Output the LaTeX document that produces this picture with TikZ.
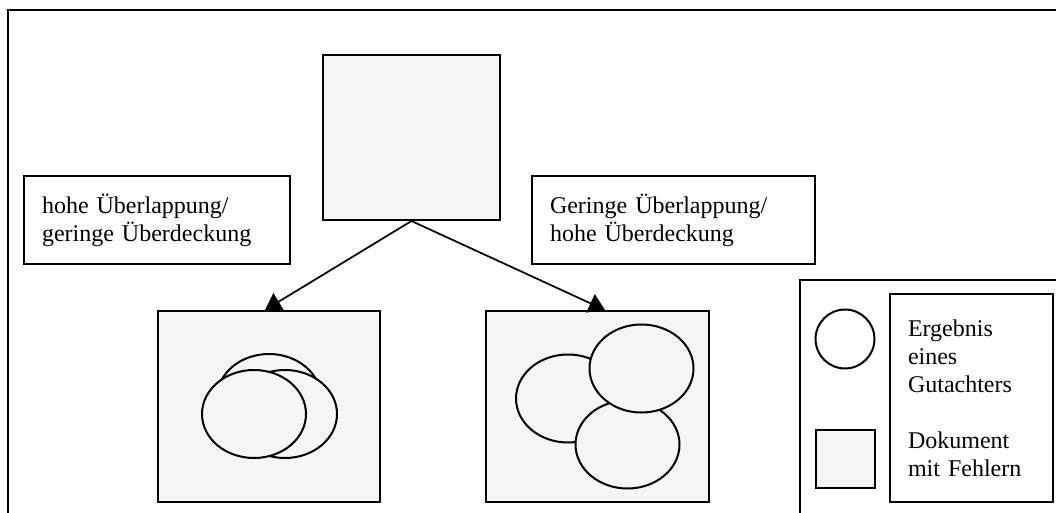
\documentclass[tikz,border=0pt]{standalone}
\usepackage{fontspec}
\setmainfont{Liberation Serif}
\usetikzlibrary{arrows.meta}

\definecolor{DocFill}{HTML}{F5F5F5}

\begin{document}
\begin{tikzpicture}[x=0.75pt, y=-0.75pt,
  every node/.style={font=\fontsize{18}{21}\selectfont},
  frame/.style={line width=1.5pt},
  docbox/.style={draw, line width=1.5pt, fill=DocFill, inner sep=0pt},
  labelbox/.style={draw, line width=1.5pt, fill=white, align=left, inner xsep=13.5pt, inner ysep=0pt},
  result/.style={draw, line width=1.5pt, fill=DocFill},
  link/.style={line width=1.3pt, -{Triangle[width=15pt, length=12pt]}}]

  \useasboundingbox (0,0) rectangle (1056,513);

  %%%%%%%%%% Rahmen %%%%%%%%%%
  \draw [frame] (8,520) -- (8,10.5) -- (1070,10.5);
  \draw [frame] (800,520) -- (800,280) -- (1070,280);

  %%%%%%%%%% Dokumente %%%%%%%%%%
  \node [docbox, minimum width=132.75pt, minimum height=123.75pt] (doc) at (411.5,137.5) {};
  \node [docbox, minimum width=166.5pt, minimum height=143.25pt] (docL) at (269,406.5) {};
  \node [docbox, minimum width=167.25pt, minimum height=143.25pt] (docR) at (597.5,406.5) {};

  %%%%%%%%%% Beschriftung %%%%%%%%%%
  \node [labelbox, text width=172.5pt, minimum height=66pt] (labL) at (157,220)
    {hohe Überlappung/\\geringe Überdeckung};
  \node [labelbox, text width=185.25pt, minimum height=66pt] (labR) at (673.5,220)
    {Geringe Überlappung/\\hohe Überdeckung};

  %%%%%%%%%% Ergebnisse der Gutachter %%%%%%%%%%
  \foreach \cx/\cy in {269/398, 285/414, 254/414, 568/398.5, 627.5/444.5, 641.5/368.5}
  {
    \draw [result] (\cx,\cy) ellipse [x radius=39pt, y radius=33pt];
  }

  %%%%%%%%%% Pfeile %%%%%%%%%%
  \coordinate (tipL) at (265,310);
  \coordinate (tipR) at (605,310);
  \draw [link] (doc.south) -- (tipL);
  \draw [link] (doc.south) -- (tipR);

  %%%%%%%%%% Legende %%%%%%%%%%
  \draw [frame, fill=white] (845,339) circle [radius=22.1pt];
  \node [docbox, minimum width=44.25pt, minimum height=43.5pt] (legDoc) at (845.5,459) {};
  \node [labelbox, text width=95.25pt, minimum height=156pt] (legText) at (971.5,398)
    {Ergebnis\\eines\\Gutachters\\[21pt]Dokument\\mit Fehlern};

\end{tikzpicture}
\end{document}
